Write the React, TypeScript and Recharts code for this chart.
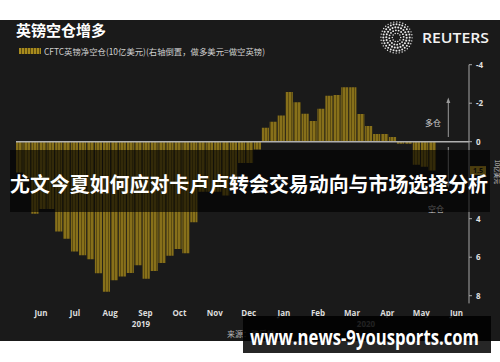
import React from "react"
import { BarChart, Bar, XAxis, YAxis, ReferenceLine } from "recharts"

// CFTC weekly report dates (Tuesdays)
const weekDates = [
  "2019-05-28", "2019-06-04", "2019-06-11", "2019-06-18", "2019-06-25",
  "2019-07-02", "2019-07-09", "2019-07-16", "2019-07-23", "2019-07-30",
  "2019-08-06", "2019-08-13", "2019-08-20", "2019-08-27",
  "2019-09-03", "2019-09-10", "2019-09-17", "2019-09-24",
  "2019-10-01", "2019-10-08", "2019-10-15", "2019-10-22", "2019-10-29",
  "2019-11-05", "2019-11-12", "2019-11-19", "2019-11-26",
  "2019-12-03", "2019-12-10", "2019-12-17", "2019-12-24", "2019-12-31",
  "2020-01-07", "2020-01-14", "2020-01-21", "2020-01-28",
  "2020-02-04", "2020-02-11", "2020-02-18", "2020-02-25",
  "2020-03-03", "2020-03-10", "2020-03-17", "2020-03-24", "2020-03-31",
  "2020-04-07", "2020-04-14", "2020-04-21", "2020-04-28",
  "2020-05-05", "2020-05-12", "2020-05-19", "2020-05-26",
]

// GBP net short position, $bn (right axis inverted)
const netShort = [
  1.6, 1.9, 3.74, 3.5, 3.5,
  4.66, 5.04, 5.7, 5.9, 6.1,
  6.84, 7.79, 7.2, 7.0,
  6.82, 6.42, 7.12, 6.72,
  6.3, 5.92, 5.57, 5.8, 4.19,
  2.6, 2.6, 2.6, 2.8,
  2.4, 1.1, 1.1, 0.4, -0.72,
  -1.04, -1.36, -2.58, -2.05,
  -1.45, -1.07, -1.71, -2.39,
  -2.42, -2.83, -2.83, -1.44, -0.82,
  -0.4, -0.4, -0.24, 0.1,
  0.1, 1.2, 1.3, 1.5,
]

const monthStarts = [
  "2019-06-01", "2019-07-01", "2019-08-01", "2019-09-01", "2019-10-01", "2019-11-01", "2019-12-01",
  "2020-01-01", "2020-02-01", "2020-03-01", "2020-04-01", "2020-05-01", "2020-06-01",
]
const monthMids = [
  "2019-06-16", "2019-07-16", "2019-08-16", "2019-09-16", "2019-10-16", "2019-11-16", "2019-12-16",
  "2020-01-16", "2020-02-15", "2020-03-16", "2020-04-16", "2020-05-16", "2020-06-16",
]
const monthLabels = ["Jun", "Jul", "Aug", "Sep", "Oct", "Nov", "Dec", "Jan", "Feb", "Mar", "Apr", "May", "Jun"]
const yTicks = [-4, -2, 0, 2, 4, 6, 8]
const lastValue = 1.5

const toDay = (s: string) =>
  Date.UTC(+s.slice(0, 4), +s.slice(5, 7) - 1, +s.slice(8, 10)) / 86400000

const xDomain = [toDay("2019-05-25"), toDay("2020-06-27")]
const data = weekDates.map((d, i) => ({ t: toDay(d), v: netShort[i] }))

const GOLD = "#87701a"
const AXIS = "#a6a6a6"
const CJK = "'Noto Sans CJK SC', 'Noto Sans', sans-serif"
const LATIN = "'Open Sans', 'Noto Sans', sans-serif"

const lastTag = (props: any) => {
  const vb = props.viewBox || {}
  const x = (vb.x || 0) + (vb.width || 0) + 1
  const y = vb.y || 0
  return (
    <g>
      <rect x={x} y={y - 4.5} width={16} height={9} fill="#c9a227" />
      <text x={x + 8} y={y + 2.5} textAnchor="middle" fontSize={7} fontWeight={700} fill="#1a1a1a" fontFamily={LATIN}>
        {lastValue}
      </text>
    </g>
  )
}

// Reuters dotted logo, rings of dots (decoration only)
const logoRings = [
  { r: 4.2, n: 10, d: 0.75 },
  { r: 7.2, n: 16, d: 0.95 },
  { r: 10.2, n: 22, d: 1.05 },
  { r: 13.2, n: 28, d: 1.0 },
  { r: 15.6, n: 32, d: 0.7 },
]

function ReutersLogo() {
  const cx = 396.5
  const cy = 37.5
  const dots: JSX.Element[] = []
  logoRings.forEach((ring, ri) => {
    for (let k = 0; k < ring.n; k++) {
      const a = (k / ring.n) * Math.PI * 2 + ri * 0.3
      dots.push(
        <circle key={`${ri}-${k}`} cx={cx + Math.cos(a) * ring.r} cy={cy + Math.sin(a) * ring.r} r={ring.d} fill="#e8e8e8" />
      )
    }
  })
  return <g>{dots}</g>
}

export default function App() {
  return (
    <div style={{ position: "absolute", left: 0, top: 0, width: 500, height: 362, background: "#ffffff", overflow: "hidden" }}>
      <div style={{ position: "absolute", left: 0, top: 20, width: 500, height: 321, background: "#1a1a1a" }} />
      <div style={{ position: "absolute", left: 0, top: 0 }}>
        <BarChart
          width={500}
          height={362}
          data={data}
          margin={{ top: 64.7, right: 6, bottom: 38.6, left: 16 }}
          barGap={0}
          barCategoryGap={0}
        >
          <defs>
            <pattern id="gbpStripes" width="3" height="6" patternUnits="userSpaceOnUse">
              <rect width="3" height="6" fill={GOLD} />
              <rect width="1" height="6" fill="#5e4d10" />
            </pattern>
          </defs>
          <XAxis
            xAxisId="m"
            dataKey="t"
            type="number"
            domain={xDomain}
            ticks={monthStarts.map(toDay)}
            interval={0}
            tick={false}
            tickSize={4}
            height={0}
            stroke={AXIS}
            allowDataOverflow
          />
          <XAxis
            xAxisId="lbl"
            dataKey="t"
            type="number"
            domain={xDomain}
            ticks={monthMids.map(toDay)}
            interval={0}
            tickFormatter={(v: number, i: number) => monthLabels[i]}
            axisLine={false}
            tickLine={false}
            tickSize={0}
            tickMargin={7}
            height={20}
            tick={{ fill: "#dddddd", fontSize: 8, fontWeight: 700, fontFamily: LATIN }}
            allowDataOverflow
          />
          <YAxis
            orientation="right"
            domain={[-4, 8.4]}
            reversed
            ticks={yTicks}
            interval={0}
            allowDataOverflow
            width={25}
            tickSize={3}
            tickMargin={4}
            stroke={AXIS}
            tick={{ fill: "#e0e0e0", fontSize: 8, fontWeight: 700, fontFamily: LATIN, textAnchor: "start" }}
          />
          <Bar xAxisId="m" dataKey="v" fill="url(#gbpStripes)" barSize={8} isAnimationActive={false} />
          <ReferenceLine xAxisId="m" y={0} stroke="#b0b0b0" strokeWidth={1.5} />
          <ReferenceLine xAxisId="m" y={lastValue} stroke="none" label={lastTag} />
        </BarChart>
      </div>
      <svg width={500} height={362} style={{ position: "absolute", left: 0, top: 0, pointerEvents: "none" }}>
        <defs>
          <pattern id="legendStripes" width="3" height="6" patternUnits="userSpaceOnUse">
            <rect width="3" height="6" fill="#a88b1e" />
            <rect width="1" height="6" fill="#5e4d10" />
          </pattern>
        </defs>
        <text x={16} y={36} fontSize={15} fontWeight={700} fill="#ffffff" fontFamily={CJK}>
          英镑空仓增多
        </text>
        <rect x={19} y={48} width={22} height={6} fill="url(#legendStripes)" />
        <text x={44} y={54.5} fontSize={8.5} fill="#cfcfcf" fontFamily={CJK} textLength={221} lengthAdjust="spacingAndGlyphs">
          CFTC英镑净空仓(10亿美元)(右轴倒置，做多美元=做空英镑)
        </text>
        <ReutersLogo />
        <text x={422} y={43} fontSize={14} fontWeight={600} fill="#f2f2f2" fontFamily={LATIN} textLength={67} lengthAdjust="spacingAndGlyphs">
          REUTERS
        </text>

        <text x={425} y={125.5} fontSize={8} fill="#cccccc" fontFamily={CJK}>多仓</text>
        <line x1={448.3} y1={137} x2={448.3} y2={102} stroke="#9a9a9a" strokeWidth={1} />
        <polygon points="448.3,97.5 446.3,103 450.3,103" fill="#9a9a9a" />
        <text x={428} y={211.5} fontSize={8} fill="#cccccc" fontFamily={CJK}>空仓</text>
        <line x1={448.3} y1={147} x2={448.3} y2={183} stroke="#9a9a9a" strokeWidth={1} />
        <polygon points="448.3,188 446.3,182.5 450.3,182.5" fill="#9a9a9a" />
        <text x={494.5} y={172} fontSize={6} fill="#cccccc" fontFamily={CJK} textAnchor="middle" transform="rotate(90 494.5 172)">
          10亿美元
        </text>

        <text x={141} y={327} fontSize={8} fontWeight={700} fill="#dddddd" fontFamily={LATIN} textAnchor="middle">2019</text>
        <text x={366} y={327} fontSize={8} fontWeight={700} fill="#dddddd" fontFamily={LATIN} textAnchor="middle">2020</text>
        <text x={227} y={337} fontSize={8} fill="#b5b5b5" fontFamily={CJK}>来源：路孚特</text>

        <rect x={10} y={150} width={480} height={62} fill="rgba(0,0,0,0.62)" />
        <text x={10} y={191.5} fontSize={20} fontWeight={700} fill="#ffffff" fontFamily={CJK} textLength={478} lengthAdjust="spacingAndGlyphs">
          尤文今夏如何应对卡卢卢转会交易动向与市场选择分析
        </text>

        <rect x={243} y={316} width={248} height={37} fill="rgba(0,0,0,0.85)" />
        <text x={250} y={345} fontSize={22} fontWeight={700} fill="#ffffff" fontFamily={LATIN} textLength={229} lengthAdjust="spacingAndGlyphs">
          www.news-9yousports.com
        </text>
      </svg>
    </div>
  )
}
